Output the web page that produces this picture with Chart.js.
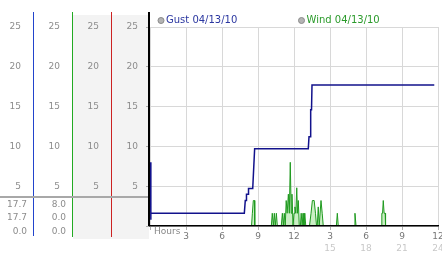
<!DOCTYPE html>
<html>
<head>
<meta charset="utf-8">
<script src="https://cdn.jsdelivr.net/npm/chart.js@4.4.0/dist/chart.umd.min.js"></script>
<style>
  html, body { margin: 0; padding: 0; background: #fff; }
  #wrap { width: 442px; height: 253px; }
</style>
</head>
<body>
<div id="wrap"><canvas id="weather"></canvas></div>
<script>
// hours since midnight, 04/13/10
const gustHours = [0.04, 0.06, 0.08, 7.86, 7.94, 8.0, 8.04, 8.17, 8.21, 8.56, 8.72, 13.19, 13.25, 13.36, 13.39, 13.46, 13.5, 23.69];
const gustSpeed = [8.0, 0.8, 1.6, 1.6, 3.2, 3.2, 4.0, 4.0, 4.7, 4.7, 9.7, 9.7, 11.2, 11.2, 14.6, 14.6, 17.7, 17.7];

const windHours = [0, 8.46, 8.53, 8.61, 8.71, 8.73,
    10.11, 10.19, 10.28, 10.36, 10.44, 10.53, 10.61,
    10.94, 11.03, 11.11, 11.19, 11.27, 11.35, 11.43, 11.53, 11.61, 11.69, 11.77, 11.83, 11.92,
    12.0, 12.08, 12.15, 12.23, 12.29, 12.36, 12.44,
    12.53, 12.60, 12.68, 12.75, 12.83, 12.90, 12.98,
    13.29, 13.42, 13.53, 13.68, 13.79, 13.88, 13.94, 14.02, 14.10, 14.25, 14.35, 14.44,
    15.53, 15.61, 15.69, 17.0, 17.08, 17.17,
    19.29, 19.32, 19.38, 19.44, 19.51, 19.6, 19.63, 23.69];
const windSpeed = [0, 0, 1.6, 3.2, 3.2, 0,
    0, 1.6, 0, 1.6, 0, 1.6, 0,
    0, 1.6, 0, 1.6, 0, 3.2, 1.6, 4.0, 1.6, 8.0, 1.6, 4.0, 0,
    1.6, 2.4, 1.6, 4.8, 1.6, 3.2, 0,
    0, 1.6, 0, 1.6, 0, 1.6, 0,
    0, 1.6, 3.2, 3.2, 1.6, 0, 0, 2.4, 0, 3.2, 1.6, 0,
    0, 1.6, 0, 0, 1.6, 0,
    0, 1.6, 1.6, 3.2, 1.6, 1.6, 0, 0];

const clockLabels = ['', '3', '6', '9', '12', '3', '6', '9', '12'];
const dayLabels = ['', '', '', '', '', '15', '18', '21', '24'];
const gustStats = ['17.7', '17.7', '0.0'];
const windStats = ['8.0', '0.0', '0.0'];

const tickFont = { family: 'DejaVu Sans', size: 9 };

const colAxis = function (weight, width) {
    return {
        position: 'left',
        weight: weight,
        min: 0,
        max: 25,
        grid: { drawOnChartArea: false, drawTicks: false },
        border: { display: false },
        ticks: {
            stepSize: 5,
            padding: 12,
            color: '#8c8c8c',
            font: tickFont,
            callback: v => v === 0 ? '' : v
        },
        afterFit: s => { s.width = width; }
    };
};

const panelPlugin = {
    id: 'panel',
    beforeDraw(chart) {
        const ctx = chart.ctx;
        const s = chart.scales;
        ctx.save();
        ctx.fillStyle = '#fff';
        ctx.fillRect(0, 0, chart.width, chart.height);
        ctx.fillStyle = '#f3f3f3';
        ctx.fillRect(s.y3.left + 1, 15, s.y3.width, 224);
        ctx.fillRect(s.y.left + 1, 15, s.y.width - 2, 224);
        ctx.restore();
    },
    afterDraw(chart) {
        const ctx = chart.ctx;
        const s = chart.scales;
        const area = chart.chartArea;
        ctx.save();
        // column rules
        const rules = [[s.y1, '#2244cc', 236], [s.y2, '#22aa22', 237], [s.y3, '#cc2222', 237]];
        rules.forEach(r => {
            ctx.fillStyle = r[1];
            ctx.fillRect(Math.round(r[0].right), 12, 1, r[2] - 12);
        });
        ctx.fillStyle = '#000';
        ctx.fillRect(area.left - 2, 12, 2, area.bottom - 12);
        // divider above the stats
        ctx.fillStyle = '#a8a8a8';
        ctx.fillRect(0, area.bottom - 30, area.left - 2, 2);
        // stats
        ctx.font = '9px "DejaVu Sans"';
        ctx.fillStyle = '#8c8c8c';
        ctx.textAlign = 'right';
        ctx.textBaseline = 'middle';
        [gustStats, windStats].forEach((col, c) => {
            const xr = [s.y1, s.y2][c].right - 6;
            col.forEach((t, i) => ctx.fillText(t, xr, area.bottom - 21.5 + i * 13.5));
        });
        // axis caption
        ctx.textAlign = 'left';
        ctx.fillStyle = '#888';
        ctx.fillText('Hours', area.left + 4, area.bottom + 5.5);
        // legend
        const lx = [161, 301.5];
        ctx.font = '10px "DejaVu Sans"';
        chart.data.datasets.forEach((ds, i) => {
            ctx.beginPath();
            ctx.arc(lx[i], 20.5, 3, 0, Math.PI * 2);
            ctx.fillStyle = '#b4b4b4';
            ctx.fill();
            ctx.strokeStyle = '#8a8a8a';
            ctx.lineWidth = 1;
            ctx.stroke();
            ctx.fillStyle = ds.legendColor;
            ctx.fillText(ds.label, lx[i] + 5, 20.5);
        });
        ctx.restore();
    }
};

new Chart(document.getElementById('weather'), {
    type: 'line',
    data: {
        datasets: [{
            label: 'Gust 04/13/10',
            legendColor: '#2a36a0',
            data: gustHours.map((h, i) => ({ x: h, y: gustSpeed[i] })),
            borderColor: '#12128c',
            borderWidth: 1.5,
            pointRadius: 0,
            fill: false
        }, {
            label: 'Wind 04/13/10',
            legendColor: '#2a9a2a',
            data: windHours.map((h, i) => ({ x: h, y: windSpeed[i] })),
            borderColor: '#1f9a1f',
            backgroundColor: 'rgba(160, 225, 150, 0.55)',
            borderWidth: 1,
            pointRadius: 0,
            fill: 'origin'
        }]
    },
    plugins: [panelPlugin],
    options: {
        responsive: true,
        maintainAspectRatio: false,
        animation: false,
        layout: { padding: { top: 27 } },
        plugins: {
            legend: { display: false },
            tooltip: { enabled: false }
        },
        scales: {
            x: {
                type: 'linear',
                position: 'bottom',
                min: 0,
                max: 24,
                grid: { color: '#d8d8d8', tickColor: '#b0b0b0', tickLength: 4 },
                border: { color: '#000', width: 1.5, z: 1 },
                ticks: {
                    stepSize: 3,
                    padding: 1,
                    maxRotation: 0,
                    color: '#777',
                    font: tickFont,
                    callback: (v, i) => clockLabels[i]
                },
                afterFit: s => { s.height = 16; s.paddingLeft = 0; s.paddingRight = 4; }
            },
            x2: {
                type: 'linear',
                position: 'bottom',
                min: 0,
                max: 24,
                grid: { display: false, drawTicks: false },
                border: { display: false },
                ticks: {
                    stepSize: 3,
                    padding: 1,
                    maxRotation: 0,
                    color: '#c8c8c8',
                    font: tickFont,
                    callback: (v, i) => dayLabels[i]
                },
                afterFit: s => { s.height = 11; s.paddingLeft = 0; s.paddingRight = 4; }
            },
            y: {
                position: 'left',
                weight: 0,
                min: 0,
                max: 25,
                grid: { color: '#d8d8d8', tickColor: '#b0b0b0', tickLength: 4 },
                border: { display: false },
                ticks: {
                    stepSize: 5,
                    padding: 8,
                    color: '#8c8c8c',
                    font: tickFont,
                    callback: v => v === 0 ? '' : v
                },
                afterFit: s => { s.width = 39; }
            },
            y3: colAxis(1, 39),
            y2: colAxis(2, 39),
            y1: colAxis(3, 33)
        }
    }
});
</script>
</body>
</html>
